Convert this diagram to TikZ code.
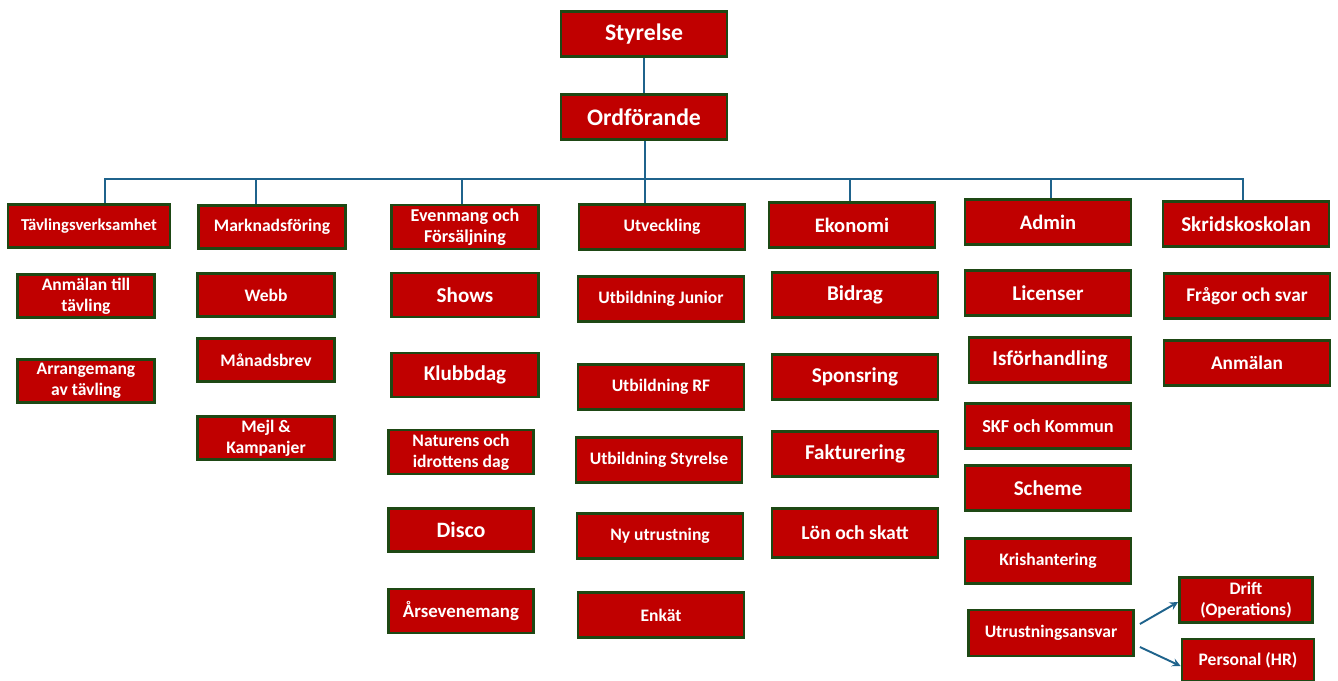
\documentclass[tikz,border=0pt]{standalone}
\usepackage{fontspec}
\setmainfont{Carlito}
\usepackage{tikz}
\usetikzlibrary{arrows}
\definecolor{boxred}{RGB}{192,0,0}
\definecolor{boxedge}{RGB}{30,72,20}
\definecolor{linkblue}{RGB}{31,99,140}
\newcommand{\boxfont}[1]{\bfseries\fontsize{#1}{12}\selectfont}
\tikzstyle{class} = [rectangle, draw=boxedge, line width=1.6pt, fill=boxred,
    text=white, align=center, inner sep=1pt, minimum width=3.32cm,
    minimum height=.9cm, font=\boxfont{10}]
\tikzstyle{narrow} = [minimum width=2.74cm, minimum height=.86cm]
\tikzstyle{mid} = [minimum width=2.95cm, minimum height=.88cm]
\tikzstyle{big} = [font=\boxfont{12}]
\tikzstyle{huge} = [font=\boxfont{13.5}]
\tikzstyle{line} = [draw=linkblue, line width=1.1pt]
\tikzstyle{arrow} = [draw=linkblue, line width=1.1pt, ->, >=stealth]

\begin{document}
\begin{tikzpicture}[x=0.02cm, y=-0.02cm]
    \useasboundingbox (0,0) rectangle (1338,680);
    \node (styr) [class, huge] at (644,34) {Styrelse};
    \node (ordf) [class, huge] at (644,117) {Ordförande};

    \node (tav) [class, minimum width=3.24cm, minimum height=.86cm, font=\boxfont{9.5}] at (89,226) {Tävlingsverksamhet};
    \node (mark) [class, mid, minimum height=.86cm] at (272,227) {Marknadsföring};
    \node (even) [class, mid, font=\boxfont{10.3}] at (465,227) {Evenmang och\\Försäljning};
    \node (utv) [class] at (662,227) {Utveckling};
    \node (eko) [class, font=\boxfont{11.7}] at (852,225) {Ekonomi};
    \node (admin) [class, font=\boxfont{11.7}] at (1048,222) {Admin};
    \node (skrid) [class, big] at (1246,224) {Skridskoskolan};

    \node (anmtav) [class, narrow] at (86,296) {Anmälan till\\tävling};
    \node (arr) [class, narrow] at (86,381) {Arrangemang\\av tävling};

    \node (webb) [class, narrow] at (266,295) {Webb};
    \node (manad) [class, narrow] at (266,360) {Månadsbrev};
    \node (mejl) [class, narrow] at (266,438) {Mejl \&\\Kampanjer};

    \node (shows) [class, mid, big] at (465,295) {Shows};
    \node (klubb) [class, mid, big] at (465,375) {Klubbdag};
    \node (natur) [class, minimum width=2.9cm, minimum height=.88cm] at (461,452) {Naturens och\\idrottens dag};
    \node (disco) [class, minimum width=2.9cm, minimum height=.86cm, font=\boxfont{12.5}] at (461,530) {Disco};
    \node (ars) [class, minimum width=2.9cm, minimum height=.88cm, font=\boxfont{10.7}] at (461,611) {Årsevenemang};

    \node (ubjun) [class] at (661,299) {Utbildning Junior};
    \node (ubrf) [class] at (661,387) {Utbildning RF};
    \node (ubstyr) [class] at (659,460) {Utbildning Styrelse};
    \node (nyutr) [class] at (660,536) {Ny utrustning};
    \node (enkat) [class] at (661,615) {Enkät};

    \node (bidrag) [class, big] at (855,295) {Bidrag};
    \node (spons) [class, big] at (855,377) {Sponsring};
    \node (fakt) [class, big] at (855,454) {Fakturering};
    \node (lon) [class, minimum height=.98cm, font=\boxfont{11.2}] at (855,533) {Lön och skatt};

    \node (lic) [class, big] at (1048,293) {Licenser};
    \node (isf) [class, big, minimum width=3.24cm] at (1050,360) {Isförhandling};
    \node (skf) [class, font=\boxfont{10.4}] at (1048,426) {SKF och Kommun};
    \node (scheme) [class, big] at (1048,488) {Scheme};
    \node (kris) [class] at (1048,561) {Krishantering};
    \node (utr) [class, minimum width=3.3cm, minimum height=.92cm] at (1051,633) {Utrustningsansvar};
    \node (drift) [class, minimum width=2.66cm] at (1246,600) {Drift\\(Operations)};
    \node (pers) [class, minimum width=2.64cm, minimum height=.84cm] at (1248,660) {Personal (HR)};

    \node (fragor) [class, font=\boxfont{11}] at (1247,296) {Frågor och svar};
    \node (anmalan) [class, font=\boxfont{11}] at (1247,363) {Anmälan};

    \coordinate (busL) at (105,179);
    \coordinate (busR) at (1243,179);
    \coordinate (b2) at (256,179);
    \coordinate (b3) at (462,179);
    \coordinate (b4) at (645,179);
    \coordinate (b5) at (850,179);
    \coordinate (b6) at (1051,179);

    \draw [line] (styr) -- (ordf);
    \draw [line] (ordf.south -| b4) -- (b4);
    \draw [line] (busL |- tav.north) -- (busL) -- (busR) -- (busR |- skrid.north);
    \draw [line] (b2) -- (b2 |- mark.north);
    \draw [line] (b3) -- (b3 |- even.north);
    \draw [line] (b4) -- (b4 |- utv.north);
    \draw [line] (b5) -- (b5 |- eko.north);
    \draw [line] (b6) -- (b6 |- admin.north);

    \draw [arrow] ([shift={(5,-9)}]utr.east) -- ([shift={(0,2)}]drift.west);
    \draw [arrow] ([shift={(5,14)}]utr.east) -- ([shift={(0,6)}]pers.west);
\end{tikzpicture}
\end{document}
